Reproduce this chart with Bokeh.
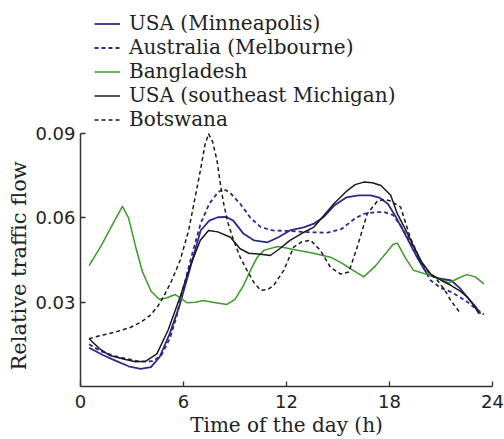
from bokeh.plotting import figure
from bokeh.models import Legend, LegendItem, FixedTicker, Range1d, Title
from bokeh.embed import file_html
from bokeh.resources import INLINE

# Hours of day and relative traffic flow
mpls_h = [0.5, 1.3, 2.0, 2.8, 3.5, 4.1, 4.6, 5.2, 5.8, 6.4, 7.0, 7.5, 8.0, 8.5, 8.9, 9.5, 10.1, 10.9, 11.5, 12.2, 13.0, 13.6, 14.2, 14.8, 15.5, 16.2, 16.9, 17.4, 17.9, 18.4, 19.0, 19.6, 20.2, 20.8, 21.6, 22.1, 22.6, 23.0, 23.3]
mpls_v = [0.0138, 0.0112, 0.0093, 0.0072, 0.0063, 0.0069, 0.0104, 0.0188, 0.0294, 0.0424, 0.0555, 0.0590, 0.0602, 0.0603, 0.0590, 0.0543, 0.0520, 0.0513, 0.0530, 0.0555, 0.0566, 0.0579, 0.0605, 0.0645, 0.0673, 0.0680, 0.0680, 0.0672, 0.0650, 0.0600, 0.0531, 0.0460, 0.0400, 0.0385, 0.0377, 0.0350, 0.0312, 0.0285, 0.0259]

melb_h = [0.5, 1.2, 2.0, 2.8, 3.5, 4.2, 4.7, 5.2, 5.6, 6.0, 6.5, 7.0, 7.5, 8.0, 8.3, 8.7, 9.3, 9.9, 10.5, 11.2, 12.2, 13.2, 14.4, 15.2, 16.0, 16.5, 17.2, 17.7, 18.2, 18.65, 19.0, 19.4, 19.9, 20.4, 21.0, 21.6, 22.1, 22.55, 23.0, 23.5]
melb_v = [0.0150, 0.0125, 0.0108, 0.0097, 0.0088, 0.0090, 0.0110, 0.0170, 0.0250, 0.0353, 0.0470, 0.0580, 0.0650, 0.0690, 0.0703, 0.0690, 0.0650, 0.0600, 0.0567, 0.0555, 0.0553, 0.0549, 0.0547, 0.0560, 0.0598, 0.0614, 0.0620, 0.0620, 0.0610, 0.0573, 0.0535, 0.0496, 0.0430, 0.0377, 0.0350, 0.0336, 0.0318, 0.0300, 0.0278, 0.0256]

bang_h = [0.5, 1.2, 1.9, 2.44, 2.8, 3.2, 3.6, 4.1, 4.58, 5.0, 5.52, 5.9, 6.2, 6.7, 7.15, 7.7, 8.53, 9.0, 9.5, 9.9, 10.3, 10.7, 11.5, 12.0, 12.4, 13.5, 14.56, 15.2, 15.7, 16.5, 17.2, 17.8, 18.2, 18.46, 18.9, 19.4, 20.4, 21.0, 21.45, 22.0, 22.5, 23.0, 23.5]
bang_v = [0.0430, 0.0500, 0.0580, 0.0641, 0.0600, 0.0500, 0.0410, 0.0340, 0.0310, 0.0315, 0.0327, 0.0312, 0.0298, 0.0300, 0.0306, 0.0300, 0.0292, 0.0310, 0.0360, 0.0413, 0.0460, 0.0485, 0.0498, 0.0493, 0.0487, 0.0475, 0.0460, 0.0440, 0.0420, 0.0390, 0.0430, 0.0475, 0.0505, 0.0510, 0.0460, 0.0413, 0.0395, 0.0380, 0.0368, 0.0385, 0.0398, 0.0390, 0.0365]

mich_h = [0.5, 1.1, 1.72, 2.5, 3.2, 3.8, 4.45, 5.1, 5.8, 6.4, 6.98, 7.46, 8.0, 8.73, 9.3, 9.8, 10.5, 11.06, 11.6, 12.2, 12.9, 13.6, 14.2, 14.76, 15.54, 16.0, 16.5, 17.0, 17.5, 18.07, 18.46, 19.0, 19.43, 19.9, 20.4, 21.0, 21.57, 22.1, 22.55, 22.9, 23.2]
mich_v = [0.0170, 0.0135, 0.0110, 0.0098, 0.0088, 0.0090, 0.0116, 0.0200, 0.0318, 0.0430, 0.0520, 0.0555, 0.0550, 0.0531, 0.0490, 0.0474, 0.0470, 0.0466, 0.0490, 0.0520, 0.0545, 0.0567, 0.0610, 0.0650, 0.0697, 0.0718, 0.0727, 0.0725, 0.0715, 0.0680, 0.0614, 0.0550, 0.0496, 0.0440, 0.0400, 0.0378, 0.0360, 0.0340, 0.0318, 0.0290, 0.0259]

bots_h = [0.5, 1.14, 2.0, 2.9, 3.5, 4.06, 4.5, 4.83, 5.3, 5.8, 6.3, 6.7, 6.98, 7.25, 7.46, 7.7, 7.95, 8.15, 8.34, 8.6, 8.92, 9.3, 9.7, 10.1, 10.5, 10.9, 11.26, 11.84, 12.42, 12.9, 13.4, 13.98, 14.56, 15.15, 15.63, 16.12, 16.7, 17.3, 17.7, 18.07, 18.65, 19.2, 19.8, 20.3, 20.8, 21.2, 21.57, 22.15]
bots_v = [0.0170, 0.0181, 0.0193, 0.0210, 0.0228, 0.0253, 0.0285, 0.0318, 0.0375, 0.0448, 0.0555, 0.0680, 0.0768, 0.0860, 0.0899, 0.0870, 0.0804, 0.0720, 0.0650, 0.0580, 0.0520, 0.0460, 0.0413, 0.0370, 0.0342, 0.0345, 0.0360, 0.0413, 0.0496, 0.0515, 0.0520, 0.0484, 0.0424, 0.0400, 0.0407, 0.0496, 0.0614, 0.0660, 0.0665, 0.0660, 0.0638, 0.0531, 0.0448, 0.0405, 0.0377, 0.0345, 0.0306, 0.0259]

x_ticks = [0, 6, 12, 18, 24]
y_ticks = [0.03, 0.06, 0.09]

BLUE = "#2e2a86"
GREEN = "#3d9a2c"
BLACK = "#1a1a1a"
SERIF = "DejaVu Serif"
SANS = "DejaVu Sans"

# frame extends above 0.09 so that the legend can sit inside it; the axis is bounded to 0..0.09
p = figure(width=504, height=439, output_backend="svg", toolbar_location=None,
           x_range=Range1d(0, 24), y_range=Range1d(0, 0.1373),
           min_border_left=80, min_border_right=12, min_border_top=0, min_border_bottom=53)
p.outline_line_color = None
p.grid.visible = False
p.background_fill_color = "white"
p.border_fill_color = "white"

r1 = p.line(mpls_h, mpls_v, line_color=BLUE, line_width=1.8, line_join="round")
r2 = p.line(melb_h, melb_v, line_color=BLUE, line_width=1.8, line_dash="4 3", line_join="round")
r3 = p.line(bang_h, bang_v, line_color=GREEN, line_width=1.5, line_join="round")
r4 = p.line(mich_h, mich_v, line_color=BLACK, line_width=1.5, line_join="round")
r5 = p.line(bots_h, bots_v, line_color=BLACK, line_width=1.5, line_dash="4 3", line_join="round")

for ax in (p.xaxis[0], p.yaxis[0]):
    ax.axis_line_color = "#333333"
    ax.axis_line_width = 1.5
    ax.major_tick_line_color = "#333333"
    ax.major_tick_line_width = 1.3
    ax.major_tick_in = 5
    ax.major_tick_out = 0
    ax.minor_tick_line_color = None
    ax.major_label_text_font = SANS
    ax.major_label_text_font_size = "18px"
    ax.major_label_text_color = "#222222"
    ax.axis_label_text_font = SERIF
    ax.axis_label_text_font_style = "normal"
    ax.axis_label_text_color = "#222222"

p.yaxis.bounds = (0, 0.09)
p.xaxis.axis_label_text_font_size = "20px"
p.xaxis.ticker = FixedTicker(ticks=x_ticks)
p.yaxis.ticker = FixedTicker(ticks=y_ticks)
p.xaxis.major_label_overrides = {0: "0", 6: "6", 12: "12", 18: "18", 24: "24"}
p.yaxis.major_label_overrides = {0.03: "0.03", 0.06: "0.06", 0.09: "0.09"}
p.xaxis.axis_label = "Time of the day (h)"
p.xaxis.major_label_standoff = 8
p.xaxis.axis_label_standoff = 2
p.yaxis.major_label_standoff = 5

# y axis title, placed along the bounded axis (0..0.09) rather than the whole frame
ytitle = Title(text="Relative traffic flow", align="left", offset=16,
               text_font=SERIF, text_font_size="21px", text_font_style="normal",
               text_color="#222222", standoff=4)
p.add_layout(ytitle, "left")

legend = Legend(items=[
    LegendItem(label="USA (Minneapolis)", renderers=[r1]),
    LegendItem(label="Australia (Melbourne)", renderers=[r2]),
    LegendItem(label="Bangladesh", renderers=[r3]),
    LegendItem(label="USA (southeast Michigan)", renderers=[r4]),
    LegendItem(label="Botswana", renderers=[r5]),
], location=(14, 255), orientation="vertical")
legend.border_line_color = None
legend.background_fill_alpha = 0
legend.label_text_font = SERIF
legend.label_text_font_size = "20px"
legend.label_text_color = "#222222"
legend.glyph_width = 26
legend.glyph_height = 21
legend.label_height = 21
legend.spacing = 0
legend.label_standoff = 9
legend.padding = 0
legend.margin = 0
p.add_layout(legend, "center")

open("out.html", "w").write(file_html(p, INLINE))
